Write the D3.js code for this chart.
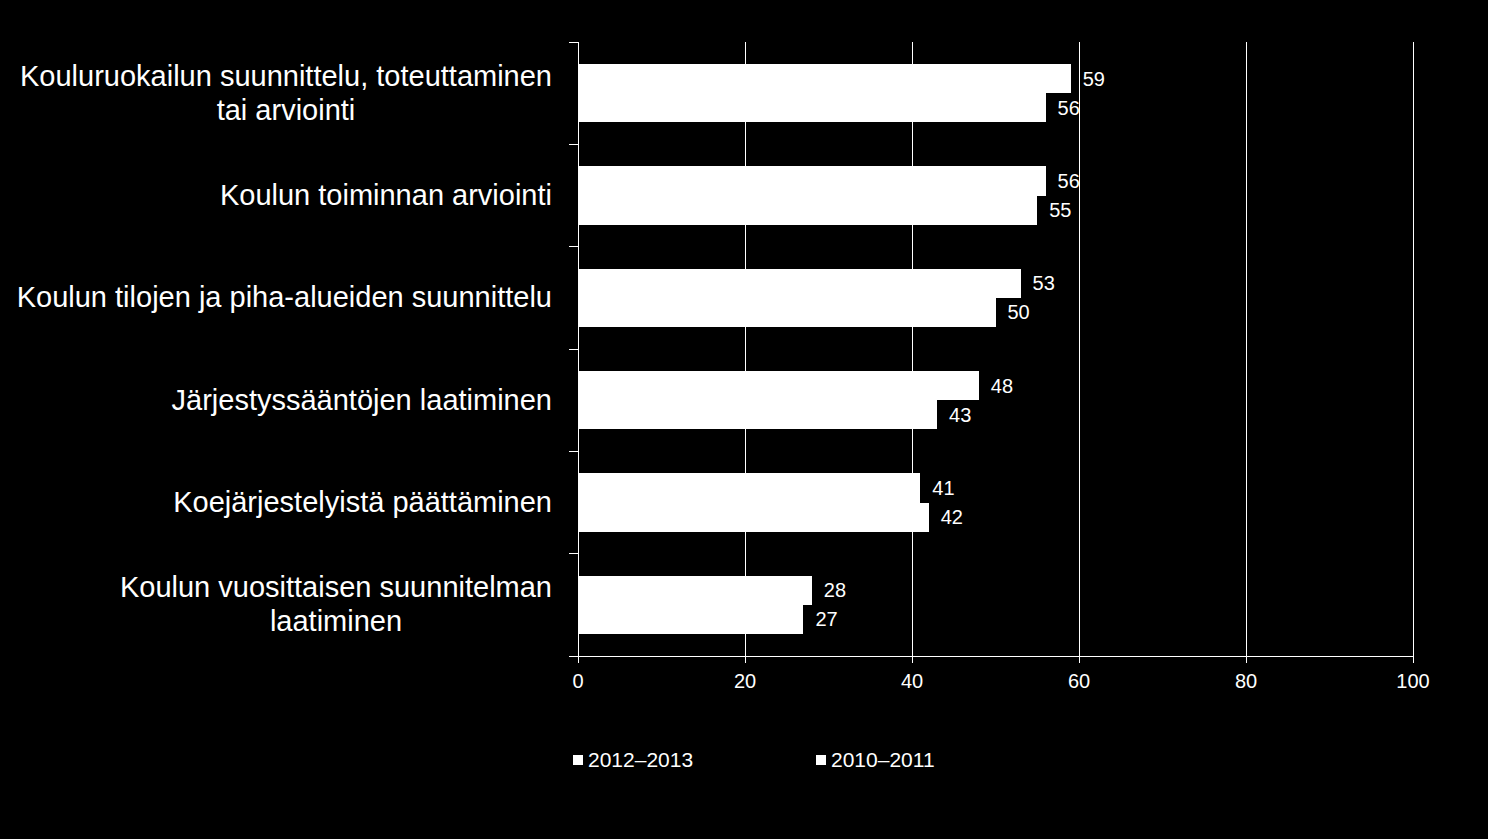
<!DOCTYPE html>
<html>
<head>
<meta charset="utf-8">
<script src="https://cdn.jsdelivr.net/npm/d3@7"></script>
<style>
  html, body { margin: 0; padding: 0; background: #000; }
  svg { display: block; }
  text { font-family: "Liberation Sans", Arial, sans-serif; fill: #fff; }
</style>
</head>
<body>
<svg id="chart" width="1488" height="839"></svg>
<script>
const categories = [
  "Kouluruokailun suunnittelu, toteuttaminen\ntai arviointi",
  "Koulun toiminnan arviointi",
  "Koulun tilojen ja piha-alueiden suunnittelu",
  "Järjestyssääntöjen laatiminen",
  "Koejärjestelyistä päättäminen",
  "Koulun vuosittaisen suunnitelman\nlaatiminen"
];
const seriesNames = ["2012–2013", "2010–2011"];
const values2012 = [59, 56, 53, 48, 41, 28];
const values2010 = [56, 55, 50, 43, 42, 27];
const xTicks = [0, 20, 40, 60, 80, 100];

(function () {
const svg = d3.select("#chart");
const W = 1488, H = 839;
svg.append("rect").attr("width", W).attr("height", H).attr("fill", "#000");

const pLeft = 578, pRight = 1413, pTop = 42, pBottom = 656;
const x = d3.scaleLinear().domain([0, 100]).range([pLeft, pRight]);
const y = d3.scaleBand().domain(categories).range([pTop, pBottom]).paddingInner(0).paddingOuter(0);
const inner = d3.scaleBand().domain(seriesNames).range([0, y.bandwidth()]).paddingInner(0).paddingOuter(0.764);

// gridlines
svg.append("g").selectAll("line").data(xTicks.filter(d => d > 0)).join("line")
  .attr("x1", d => x(d)).attr("x2", d => x(d))
  .attr("y1", pTop).attr("y2", pBottom)
  .attr("stroke", "#fff").attr("stroke-width", 1).attr("shape-rendering", "crispEdges");

// bars
const rows = categories.map((c, i) => ({ c, vals: [values2012[i], values2010[i]] }));
const grp = svg.append("g").selectAll("g").data(rows).join("g")
  .attr("transform", d => `translate(0,${y(d.c)})`);
grp.selectAll("rect").data(d => d.vals.map((v, j) => ({ v, s: seriesNames[j] }))).join("rect")
  .attr("x", x(0)).attr("y", d => inner(d.s))
  .attr("width", d => x(d.v) - x(0)).attr("height", inner.bandwidth())
  .attr("fill", "#fff").attr("shape-rendering", "crispEdges");
grp.selectAll("text.val").data(d => d.vals.map((v, j) => ({ v, s: seriesNames[j] }))).join("text")
  .attr("class", "val")
  .attr("x", d => x(d.v) + 12)
  .attr("y", d => inner(d.s) + inner.bandwidth() / 2)
  .attr("dy", "0.35em")
  .attr("font-size", 20)
  .text(d => d.v);

// y axis
const yAxis = svg.append("g");
yAxis.append("line").attr("x1", pLeft).attr("x2", pLeft).attr("y1", pTop).attr("y2", pBottom)
  .attr("stroke", "#fff").attr("shape-rendering", "crispEdges");
const bounds = categories.map(c => y(c));
yAxis.selectAll("line.tk").data(bounds).join("line").attr("class", "tk")
  .attr("x1", pLeft - 9).attr("x2", pLeft).attr("y1", d => d).attr("y2", d => d)
  .attr("stroke", "#fff").attr("shape-rendering", "crispEdges");

// category labels
const fs = 29, lh = 34;
categories.forEach(c => {
  const lines = c.split("\n");
  const cy = y(c) + y.bandwidth() / 2;
  const g = svg.append("g");
  const texts = lines.map((ln, i) => g.append("text")
    .attr("font-size", fs)
    .attr("y", cy + (i - (lines.length - 1) / 2) * lh)
    .attr("dy", "0.33em")
    .text(ln));
  if (lines.length === 1) {
    texts[0].attr("x", 552).attr("text-anchor", "end");
  } else {
    const maxW = d3.max(texts, t => t.node().getComputedTextLength());
    texts.forEach(t => t.attr("x", 552 - maxW / 2).attr("text-anchor", "middle"));
  }
});

// x axis
const xAxis = svg.append("g");
xAxis.append("line").attr("x1", pLeft - 9).attr("x2", pRight).attr("y1", pBottom).attr("y2", pBottom)
  .attr("stroke", "#fff").attr("shape-rendering", "crispEdges");
xAxis.selectAll("line.tk").data(xTicks).join("line").attr("class", "tk")
  .attr("x1", d => x(d)).attr("x2", d => x(d)).attr("y1", pBottom).attr("y2", pBottom + 7)
  .attr("stroke", "#fff").attr("shape-rendering", "crispEdges");
xAxis.selectAll("text").data(xTicks).join("text")
  .attr("x", d => x(d)).attr("y", 688).attr("text-anchor", "middle")
  .attr("font-size", 20).text(d => d);

// legend
const legX = [573, 816];
const leg = svg.append("g").selectAll("g").data(seriesNames).join("g")
  .attr("transform", (d, i) => `translate(${legX[i]},755)`);
leg.append("rect").attr("width", 10).attr("height", 10).attr("fill", "#fff");
leg.append("text").attr("x", 15).attr("y", 12).attr("font-size", 21).text(d => d);
})();
</script>
</body>
</html>
